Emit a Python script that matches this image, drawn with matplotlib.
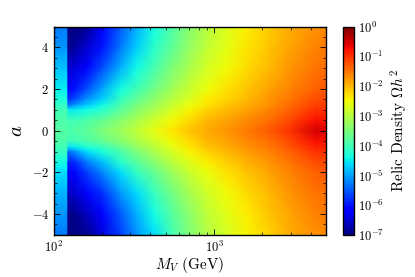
import numpy as np
import matplotlib
matplotlib.use("Agg")
import matplotlib.pyplot as plt
from matplotlib.ticker import MultipleLocator

plt.rcParams['font.family'] = ['cmr10', 'DejaVu Serif']
plt.rcParams['mathtext.fontset'] = 'cm'
plt.rcParams['axes.formatter.use_mathtext'] = True

# Vector mass grid (GeV)
mv = [100, 120.5, 122.5, 135, 160, 200, 260, 330, 420, 540, 700, 900,
      1200, 1600, 2200, 3000, 4300, 5000]
# Coupling parameter a grid
a_vals = [5, 4, 3, 2, 1.5, 1.2, 1, 0.5, 0, -0.5, -0.8, -1, -1.5, -2, -3, -4, -5]

# log10(Omega h^2), one list per mass column (rows follow a_vals)
col_100  = [-5.3, -5.1, -4.8, -4.5, -4.3, -4.1, -4.0, -3.9, -3.85, -3.9, -4.0, -4.1, -4.4, -4.6, -4.9, -5.1, -5.3]
col_120  = [-5.3, -5.1, -4.8, -4.5, -4.3, -4.1, -4.0, -3.9, -3.85, -3.9, -4.0, -4.1, -4.4, -4.6, -4.9, -5.1, -5.3]
col_122  = [-7.0, -6.9, -6.5, -6.1, -5.8, -5.3, -4.5, -4.0, -3.9, -4.0, -4.6, -5.4, -5.9, -6.2, -6.6, -6.9, -7.0]
col_135  = [-7.0, -6.8, -6.4, -6.0, -5.6, -5.0, -4.5, -4.0, -3.85, -4.0, -4.5, -5.1, -5.8, -6.1, -6.5, -6.9, -7.0]
col_160  = [-6.9, -6.5, -6.1, -5.6, -5.1, -4.7, -4.4, -3.9, -3.75, -3.9, -4.3, -4.6, -5.3, -5.7, -6.2, -6.6, -6.9]
col_200  = [-6.2, -6.0, -5.6, -5.0, -4.7, -4.4, -4.2, -3.7, -3.5, -3.7, -4.1, -4.3, -4.8, -5.2, -5.8, -6.2, -6.4]
col_260  = [-5.5, -5.3, -4.9, -4.4, -4.1, -3.9, -3.8, -3.4, -3.2, -3.4, -3.7, -3.9, -4.2, -4.6, -5.1, -5.5, -5.7]
col_330  = [-4.9, -4.7, -4.4, -4.0, -3.7, -3.5, -3.4, -3.1, -2.9, -3.1, -3.3, -3.5, -3.8, -4.1, -4.6, -4.9, -5.1]
col_420  = [-4.4, -4.2, -3.95, -3.6, -3.35, -3.2, -3.1, -2.8, -2.6, -2.8, -3.0, -3.1, -3.4, -3.7, -4.1, -4.4, -4.6]
col_540  = [-3.9, -3.75, -3.5, -3.2, -3.0, -2.85, -2.75, -2.5, -2.35, -2.5, -2.65, -2.75, -3.0, -3.25, -3.6, -3.85, -4.0]
col_700  = [-3.4, -3.3, -3.1, -2.85, -2.7, -2.55, -2.45, -2.25, -2.1, -2.25, -2.35, -2.45, -2.65, -2.85, -3.15, -3.35, -3.45]
col_900  = [-3.0, -2.9, -2.75, -2.55, -2.4, -2.3, -2.2, -2.0, -1.9, -2.0, -2.1, -2.2, -2.4, -2.55, -2.8, -2.95, -3.05]
col_1200 = [-2.7, -2.6, -2.5, -2.3, -2.2, -2.1, -2.0, -1.85, -1.75, -1.85, -1.9, -2.0, -2.15, -2.3, -2.5, -2.65, -2.75]
col_1600 = [-2.4, -2.35, -2.25, -2.1, -2.0, -1.9, -1.85, -1.65, -1.55, -1.65, -1.75, -1.8, -1.95, -2.1, -2.25, -2.4, -2.45]
col_2200 = [-2.15, -2.1, -2.0, -1.85, -1.75, -1.7, -1.6, -1.45, -1.3, -1.45, -1.55, -1.6, -1.75, -1.85, -2.0, -2.1, -2.2]
col_3000 = [-1.9, -1.85, -1.75, -1.6, -1.5, -1.4, -1.35, -1.15, -1.0, -1.15, -1.25, -1.35, -1.5, -1.6, -1.75, -1.85, -1.9]
col_4300 = [-1.7, -1.6, -1.5, -1.35, -1.2, -1.1, -1.0, -0.75, -0.5, -0.75, -0.9, -1.0, -1.2, -1.35, -1.5, -1.6, -1.7]
col_5000 = [-1.65, -1.55, -1.45, -1.3, -1.2, -1.1, -1.0, -0.8, -0.6, -0.8, -0.9, -1.0, -1.2, -1.3, -1.45, -1.55, -1.65]

columns = [col_100, col_120, col_122, col_135, col_160, col_200, col_260, col_330,
           col_420, col_540, col_700, col_900, col_1200, col_1600, col_2200,
           col_3000, col_4300, col_5000]

cbar_exponents = [-7, -6, -5, -4, -3, -2, -1, 0]

Z = np.array(columns).T  # shape (len(a_vals), len(mv))
X, Y = np.meshgrid(mv, a_vals)

fig = plt.figure(figsize=(4.15, 2.77), dpi=100)
ax = fig.add_axes([0.130, 0.152, 0.656, 0.752])
cax = fig.add_axes([0.8265, 0.152, 0.0265, 0.752])

mesh = ax.pcolormesh(X, Y, Z, cmap='jet', vmin=-7, vmax=0, shading='gouraud',
                     rasterized=True)
ax.set_xscale('log')
ax.set_xlim(100, 5000)
ax.set_ylim(-5, 5)
ax.yaxis.set_major_locator(MultipleLocator(2))
ax.yaxis.set_minor_locator(MultipleLocator(0.5))
ax.tick_params(which='both', direction='in', top=True, right=True, labelsize=9)
ax.tick_params(which='major', length=4, width=0.6)
ax.tick_params(which='minor', length=2, width=0.5)
for s in ax.spines.values():
    s.set_linewidth(1.0)
ax.set_xlabel(r'$M_V\ (\mathrm{GeV})$', fontsize=11, labelpad=0)
ax.set_ylabel(r'$a$', fontsize=15, labelpad=4)

cb = fig.colorbar(mesh, cax=cax)
cb.set_ticks(cbar_exponents)
cb.set_ticklabels([r'$10^{%d}$' % e for e in cbar_exponents])
cax.tick_params(direction='in', length=0, labelsize=9, pad=3)
cb.outline.set_linewidth(1.0)
cb.set_label(r'Relic Density $\Omega h^2$', fontsize=11, labelpad=3)

fig.savefig('out.png', dpi=100)
